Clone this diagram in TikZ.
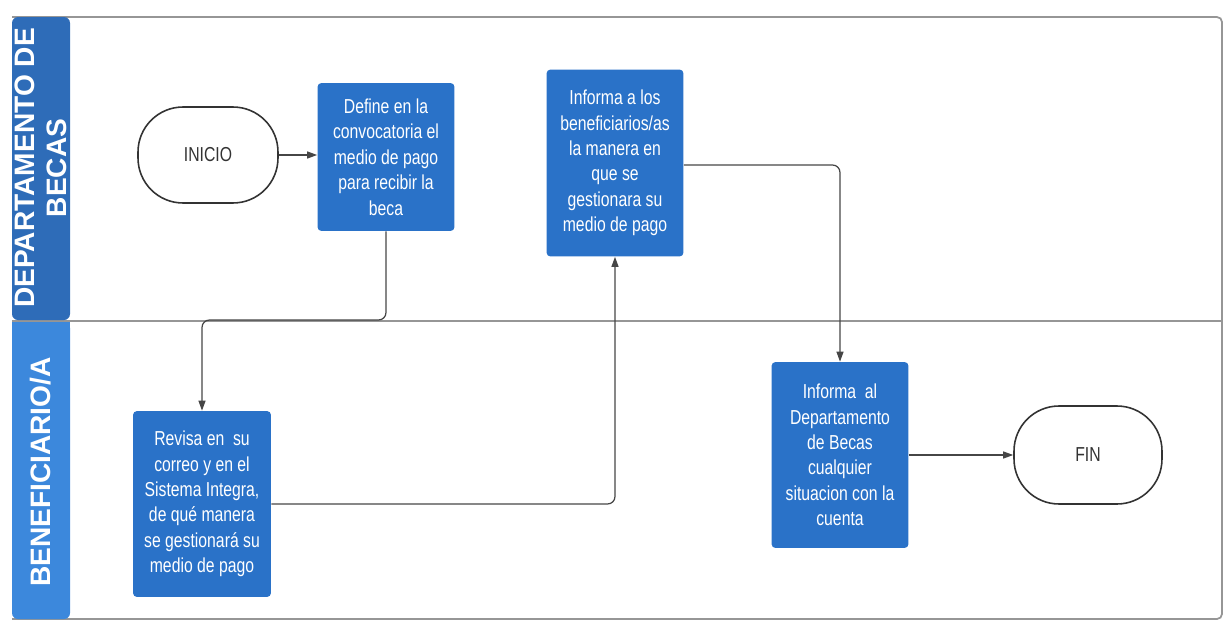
\documentclass[tikz,border=0pt]{standalone}
\usepackage{fontspec}
\setmainfont{Liberation Sans}
\newfontfamily\narrowfont[FakeStretch=0.78]{Liberation Sans}
\usetikzlibrary{arrows.meta,positioning}
\definecolor{boxblue}{RGB}{42,114,200}
\definecolor{hdrdark}{RGB}{46,108,184}
\definecolor{hdrlight}{RGB}{60,136,220}
\definecolor{framegray}{RGB}{150,150,150}
\definecolor{linegray}{RGB}{70,70,70}
\tikzset{
  stepbox/.style={fill=boxblue, rounded corners=0.08cm, text=white, align=center,
    font=\narrowfont\fontsize{11.5}{14.5}\selectfont, minimum width=2.74cm, inner sep=2pt},
  terminal/.style={draw=black!80, line width=0.9pt, fill=white, rounded corners=0.9cm,
    font=\narrowfont\fontsize{11.5}{14}\selectfont, text=black!80},
  flow/.style={draw=linegray, line width=0.7pt, rounded corners=0.15cm,
    -{Triangle[length=0.2cm,width=0.14cm]}},
  lanelabel/.style={rotate=90, text=white, align=center,
    font=\bfseries\fontsize{16}{18}\selectfont}
}
\begin{document}
\begin{tikzpicture}[x=0.02cm,y=-0.02cm]
\useasboundingbox (0,0) rectangle (1224,622);
% frame
\draw[framegray, line width=1pt, rounded corners=0.1cm] (12,17) -- (1222,17) -- (1222,619) -- (12,619);
\draw[framegray, line width=1pt] (12,321) -- (1222,321);
% lane headers
\fill[hdrdark, rounded corners=0.12cm] (12,320) -- (12,17) -- (70,17) -- (70,320) -- cycle;
\fill[hdrlight, rounded corners=0.12cm] (12,322) -- (70,322) -- (70,619) -- (12,619) -- cycle;
\fill[hdrlight] (12,322) rectangle (70,330);
\node[lanelabel] (l1) at (41,168) {DEPARTAMENTO DE\\BECAS};
\node[lanelabel] (l2) at (41,472) {BENEFICIARIO/A};
% nodes
\node[terminal, minimum width=2.8cm, minimum height=1.92cm] (inicio) at (208,155) {INICIO};
\node[stepbox, minimum height=2.96cm] (define) at (386,157) {Define en la\\convocatoria el\\medio de pago\\para recibir la\\beca};
\node[stepbox, minimum height=3.74cm] (informa) at (615,163) {Informa a los\\beneficiarios/as\\la manera en\\que se\\gestionara su\\medio de pago};
\node[stepbox, minimum height=3.72cm, minimum width=2.76cm] (revisa) at (202,504) {Revisa en\ \ su\\correo y en el\\Sistema Integra,\\de qué manera\\se gestionará su\\medio de pago};
\node[stepbox, minimum height=3.72cm] (informaal) at (840,455) {Informa\ \ al\\Departamento\\de Becas\\cualquier\\situacion con la\\cuenta};
\node[terminal, minimum width=2.96cm, minimum height=1.96cm] (fin) at (1088,455) {FIN};
% connectors
\draw[flow] (inicio.east) -- (inicio.east -| define.west);
\draw[flow] (define.south) -- (define.south |- 0,320) -| (revisa.north);
\draw[flow] (revisa.east) -| (informa.south);
\draw[flow] (informa.east |- 0,165) -| (informaal.north);
\draw[flow] (informaal.east) -- (fin.west);
\end{tikzpicture}
\end{document}
